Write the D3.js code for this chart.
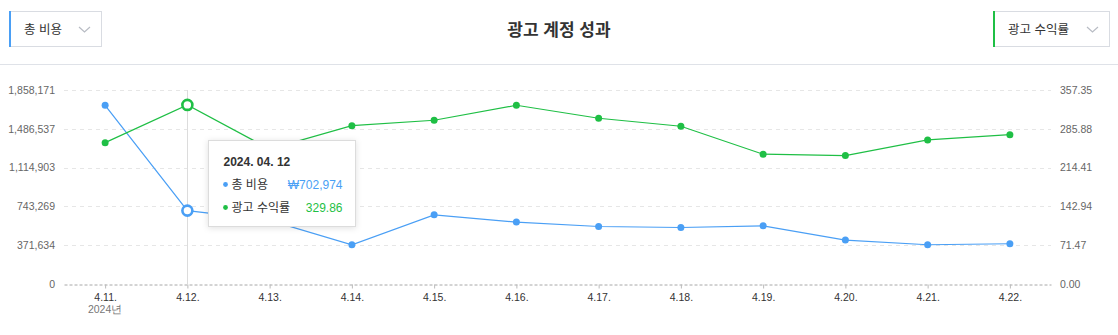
<!DOCTYPE html>
<html lang="ko">
<head>
<meta charset="utf-8">
<script src="https://cdn.jsdelivr.net/npm/d3@7/dist/d3.min.js"></script>
<style>
  html, body { margin: 0; padding: 0; background: #fff; }
  svg { display: block; font-family: "Liberation Sans", Arial, "Noto Sans CJK KR", sans-serif; }
</style>
</head>
<body>
<svg id="chart" width="1118" height="335"></svg>
<script>
// Daily account performance, 2024-04-11 .. 2024-04-22
const dates = ["2024-04-11", "2024-04-12", "2024-04-13", "2024-04-14", "2024-04-15", "2024-04-16",
               "2024-04-17", "2024-04-18", "2024-04-19", "2024-04-20", "2024-04-21", "2024-04-22"];
const dateLabels = ["4.11.", "4.12.", "4.13.", "4.14.", "4.15.", "4.16.",
                    "4.17.", "4.18.", "4.19.", "4.20.", "4.21.", "4.22."];
const yearLabel = "2024년";

// 총 비용 (KRW)
const totalCost = [1711800, 702974, 610000, 375800, 662700, 592900,
                   550800, 541300, 557500, 420800, 375800, 385400];
// 광고 수익률
const roas = [260.4, 329.86, 248.5, 291.7, 301.6, 329.2,
              305.3, 290.6, 239.1, 236.5, 265.4, 275.1];

const costTicks = [0, 371634, 743269, 1114903, 1486537, 1858171];
const costTickLabels = ["0", "371,634", "743,269", "1,114,903", "1,486,537", "1,858,171"];
const roasTicks = [0, 71.47, 142.94, 214.41, 285.88, 357.35];
const roasTickLabels = ["0.00", "71.47", "142.94", "214.41", "285.88", "357.35"];

const title = "광고 계정 성과";
const leftMetric = "총 비용";
const rightMetric = "광고 수익률";
const focusIndex = 1;
const focusDate = "2024. 04. 12";

const BLUE = "#4a9ff5";
const GREEN = "#1fbf45";

const svg = d3.select("#chart");

// ---------- header ----------
const header = svg.append("g");
header.append("line")
  .attr("x1", 0).attr("x2", 1118).attr("y1", 64.5).attr("y2", 64.5)
  .attr("stroke", "#dfe2e8").attr("stroke-width", 1);

header.append("text")
  .attr("x", 559).attr("y", 36)
  .attr("text-anchor", "middle")
  .attr("font-size", 17).attr("font-weight", "bold")
  .attr("fill", "#333")
  .text(title);

function dropdown(x, w, label, color) {
  const g = header.append("g").attr("transform", `translate(${x},11)`);
  g.append("rect").attr("x", 0.5).attr("y", 0.5).attr("width", w).attr("height", 35)
    .attr("fill", "#fff").attr("stroke", "#d9dce2");
  g.append("rect").attr("x", 0).attr("y", 0).attr("width", 2).attr("height", 36)
    .attr("fill", color);
  g.append("text").attr("x", 15).attr("y", 22.5)
    .attr("font-size", 12.5).attr("fill", "#333").text(label);
  g.append("path")
    .attr("d", `M${w - 22},${16} L${w - 16.5},${21} L${w - 11},${16}`)
    .attr("fill", "none").attr("stroke", "#b8bcc4").attr("stroke-width", 1.2);
}
dropdown(9, 92, leftMetric, BLUE);
dropdown(993, 116, rightMetric, GREEN);

// ---------- scales ----------
const x = d3.scalePoint().domain(dates).range([64, 1051]).padding(0.5);
const yL = d3.scaleLinear().domain([0, 1858171]).range([284, 90]);
const yR = d3.scaleLinear().domain([0, 357.35]).range([284, 90]);
const plotLeft = 64, plotRight = 1051;

// ---------- grid ----------
const grid = svg.append("g");
grid.selectAll("line").data(costTicks.slice(1)).join("line")
  .attr("x1", plotLeft).attr("x2", plotRight)
  .attr("y1", d => Math.round(yL(d)) + 0.5).attr("y2", d => Math.round(yL(d)) + 0.5)
  .attr("stroke", "#e6e6e6").attr("stroke-dasharray", "4,4");

// crosshair on focused day
svg.append("line")
  .attr("x1", Math.round(x(dates[focusIndex])) + 0.5).attr("x2", Math.round(x(dates[focusIndex])) + 0.5)
  .attr("y1", 90).attr("y2", 284)
  .attr("stroke", "#dcdcdc").attr("stroke-width", 1);

// ---------- axes ----------
const axisLeft = d3.axisLeft(yL).tickValues(costTicks)
  .tickFormat((d, i) => costTickLabels[i]).tickSize(0).tickPadding(9);
const gl = svg.append("g").attr("transform", `translate(${plotLeft},0)`).call(axisLeft);
gl.select(".domain").remove();
gl.selectAll("text").attr("font-size", 10.5).attr("fill", "#666").attr("font-family", null);

const axisRight = d3.axisRight(yR).tickValues(roasTicks)
  .tickFormat((d, i) => roasTickLabels[i]).tickSize(0).tickPadding(9);
const gr = svg.append("g").attr("transform", `translate(${plotRight},0)`).call(axisRight);
gr.select(".domain").remove();
gr.selectAll("text").attr("font-size", 10.5).attr("fill", "#666").attr("font-family", null);

const axisBottom = d3.axisBottom(x).tickFormat((d, i) => dateLabels[i])
  .tickSizeInner(4).tickSizeOuter(0).tickPadding(5);
const gb = svg.append("g").attr("transform", "translate(0,284.5)").call(axisBottom);
gb.select(".domain").attr("stroke", "#a8a8a8").attr("stroke-dasharray", "3,2");
gb.selectAll(".tick line").attr("stroke", "#bbb");
gb.selectAll("text").attr("font-size", 10.5).attr("fill", "#333").attr("font-family", null);
gb.append("text")
  .attr("x", x(dates[0])).attr("y", 28)
  .attr("text-anchor", "middle").attr("font-size", 10.5).attr("fill", "#777")
  .text(yearLabel);

// ---------- series ----------
function series(values, yScale, color) {
  const pts = values.map((v, i) => [x(dates[i]), yScale(v)]);
  svg.append("path").datum(pts)
    .attr("d", d3.line())
    .attr("fill", "none").attr("stroke", color).attr("stroke-width", 1.2);
  svg.append("g").selectAll("circle")
    .data(pts.filter((p, i) => i !== focusIndex)).join("circle")
    .attr("cx", d => d[0]).attr("cy", d => d[1]).attr("r", 3.5)
    .attr("fill", color);
  const f = pts[focusIndex];
  svg.append("circle").attr("cx", f[0]).attr("cy", f[1]).attr("r", 5)
    .attr("fill", "#fff").attr("stroke", color).attr("stroke-width", 2.6);
}
series(totalCost, yL, BLUE);
series(roas, yR, GREEN);

// ---------- tooltip ----------
const defs = svg.append("defs");
const shadow = defs.append("filter").attr("id", "tipShadow")
  .attr("x", "-20%").attr("y", "-20%").attr("width", "140%").attr("height", "140%");
shadow.append("feDropShadow").attr("dx", 0).attr("dy", 1).attr("stdDeviation", 3)
  .attr("flood-color", "#000").attr("flood-opacity", 0.12);

const tip = svg.append("g").attr("transform", "translate(208.5,140.5)");
tip.append("rect").attr("width", 147).attr("height", 86)
  .attr("fill", "#fff").attr("stroke", "#dcdcdc").attr("filter", "url(#tipShadow)");
tip.append("text").attr("x", 15).attr("y", 25)
  .attr("font-size", 12).attr("font-weight", "bold").attr("fill", "#333").text(focusDate);

const rows = [
  { name: leftMetric, color: BLUE, value: "₩" + d3.format(",")(totalCost[focusIndex]), y: 48 },
  { name: rightMetric, color: GREEN, value: d3.format(".2f")(roas[focusIndex]), y: 71 }
];
rows.forEach(r => {
  tip.append("circle").attr("cx", 17).attr("cy", r.y - 4).attr("r", 2.4).attr("fill", r.color);
  tip.append("text").attr("x", 23).attr("y", r.y)
    .attr("font-size", 12).attr("fill", "#333").text(r.name);
  tip.append("text").attr("x", 134).attr("y", r.y).attr("text-anchor", "end")
    .attr("font-size", 12).attr("fill", r.color).text(r.value);
});
</script>
</body>
</html>
